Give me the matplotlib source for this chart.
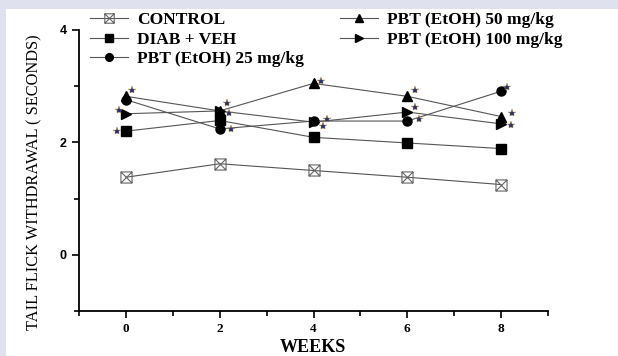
import matplotlib
matplotlib.use("Agg")
import matplotlib.pyplot as plt
import numpy as np
from matplotlib.path import Path
from matplotlib.transforms import offset_copy
from matplotlib.ticker import MultipleLocator

weeks = [0, 2, 4, 6, 8]
series_names = ["CONTROL", "DIAB + VEH", "PBT (EtOH) 25 mg/kg",
                "PBT (EtOH) 50 mg/kg", "PBT (EtOH) 100 mg/kg"]
control = [1.38, 1.62, 1.50, 1.38, 1.25]
diab_veh = [2.20, 2.39, 2.09, 1.99, 1.89]
pbt25 = [2.76, 2.24, 2.38, 2.38, 2.91]
pbt50 = [2.82, 2.56, 3.05, 2.82, 2.46]
pbt100 = [2.51, 2.56, 2.36, 2.54, 2.33]
x_ticks = [0, 2, 4, 6, 8]
y_ticks = [0, 2, 4]

# significance stars: (series index, week index, dx px, dy px)
stars = [
    (3, 0, 6, 6), (1, 0, -9, 0), (4, 0, -7, 4),
    (3, 1, 7, 8), (4, 1, 9, -2), (2, 1, 11, 0),
    (3, 2, 7, 2), (2, 2, 13, 2), (4, 2, 9, -4),
    (3, 3, 8, 6), (4, 3, 8, 5), (2, 3, 12, 2),
    (2, 4, 6, 4), (3, 4, 11, 4), (4, 4, 10, -1),
]

serif = ["Liberation Serif", "DejaVu Serif"]
sans = ["Liberation Sans", "DejaVu Sans"]

box_x = Path([(-1, -1), (1, -1), (1, 1), (-1, 1), (-1, -1),
              (-1, -1), (1, 1), (-1, 1), (1, -1)],
             [Path.MOVETO, Path.LINETO, Path.LINETO, Path.LINETO, Path.CLOSEPOLY,
              Path.MOVETO, Path.LINETO, Path.MOVETO, Path.LINETO])

fig = plt.figure(figsize=(6.18, 3.56), dpi=100)
fig.patch.set_facecolor("white")
# lavender frame bands
fig.patches.append(plt.Rectangle((0, 1 - 9 / 356), 1, 9 / 356, transform=fig.transFigure,
                                 facecolor="#dfe1ef", edgecolor="none", zorder=0))
fig.patches.append(plt.Rectangle((0, 0), 6 / 618, 1, transform=fig.transFigure,
                                 facecolor="#dfe1ef", edgecolor="none", zorder=0))

ax = fig.add_axes([79 / 618, 1 - 311 / 356, (548 - 79) / 618, (311 - 30) / 356])
ax.set_facecolor("none")

data = [control, diab_veh, pbt25, pbt50, pbt100]
styles = [
    dict(marker=box_x, ms=8, mfc="none", mec="#666666", mew=0.8),
    dict(marker="s", ms=6.5, mfc="black", mec="black"),
    dict(marker="o", ms=6.5, mfc="black", mec="black"),
    dict(marker="^", ms=7.5, mfc="black", mec="black"),
    dict(marker=">", ms=7.5, mfc="black", mec="black"),
]
handles = []
for vals, name, st in zip(data, series_names, styles):
    h, = ax.plot(weeks, vals, color="#555555", lw=0.8, label=name, **st)
    handles.append(h)

for si, wi, dx, dy in stars:
    tr = offset_copy(ax.transData, fig=fig, x=dx, y=dy, units="dots")
    ax.plot(weeks[wi], data[si][wi], marker="*", ms=6, mfc="#1f3470",
            mec="#c08a3a", mew=0.3, transform=tr, clip_on=False, zorder=5)

ax.set_xlim(-1, 9)
ax.set_ylim(-1, 4)
ax.set_xticks(x_ticks)
ax.set_yticks(y_ticks)
ax.xaxis.set_minor_locator(MultipleLocator(2, offset=1))
ax.yaxis.set_minor_locator(MultipleLocator(2, offset=1))
for s in ["top", "right"]:
    ax.spines[s].set_visible(False)
for s in ["left", "bottom"]:
    ax.spines[s].set_linewidth(1.3)
ax.tick_params(which="major", direction="out", length=5, width=1.2)
ax.tick_params(which="minor", direction="out", length=3.5, width=1.2)
ax.tick_params(axis="x", which="major", pad=3.5)
ax.tick_params(axis="y", which="major", pad=4)
for lab in ax.get_xticklabels():
    lab.set_family(serif)
    lab.set_fontweight("bold")
    lab.set_fontsize(9.5)
for lab in ax.get_yticklabels():
    lab.set_family(sans)
    lab.set_fontweight("bold")
    lab.set_fontsize(9)

fig.text(313 / 618, 1 - 348 / 356, "WEEKS", ha="center", va="center",
         family=serif, fontweight="bold", fontsize=13)
fig.text(34 / 618, 1 - 182 / 356, "TAIL FLICK WITHDRAWAL ( SECONDS)", rotation=90,
         ha="center", va="center", family=serif, fontsize=11.8)

leg_font = dict(family=serif, weight="bold", size=12.5)
leg_kw = dict(loc="upper left", frameon=False, prop=leg_font, handlelength=2.2,
              handletextpad=0.5, labelspacing=0.2, borderaxespad=0, borderpad=0,
              markerscale=0.85)
fig.legend(handles[:3], series_names[:3], bbox_to_anchor=(90 / 618, 1 - 12 / 356), **leg_kw)
fig.legend(handles[3:], series_names[3:], bbox_to_anchor=(340 / 618, 1 - 12 / 356), **leg_kw)

fig.savefig("out.png", dpi=100, facecolor=fig.get_facecolor())
